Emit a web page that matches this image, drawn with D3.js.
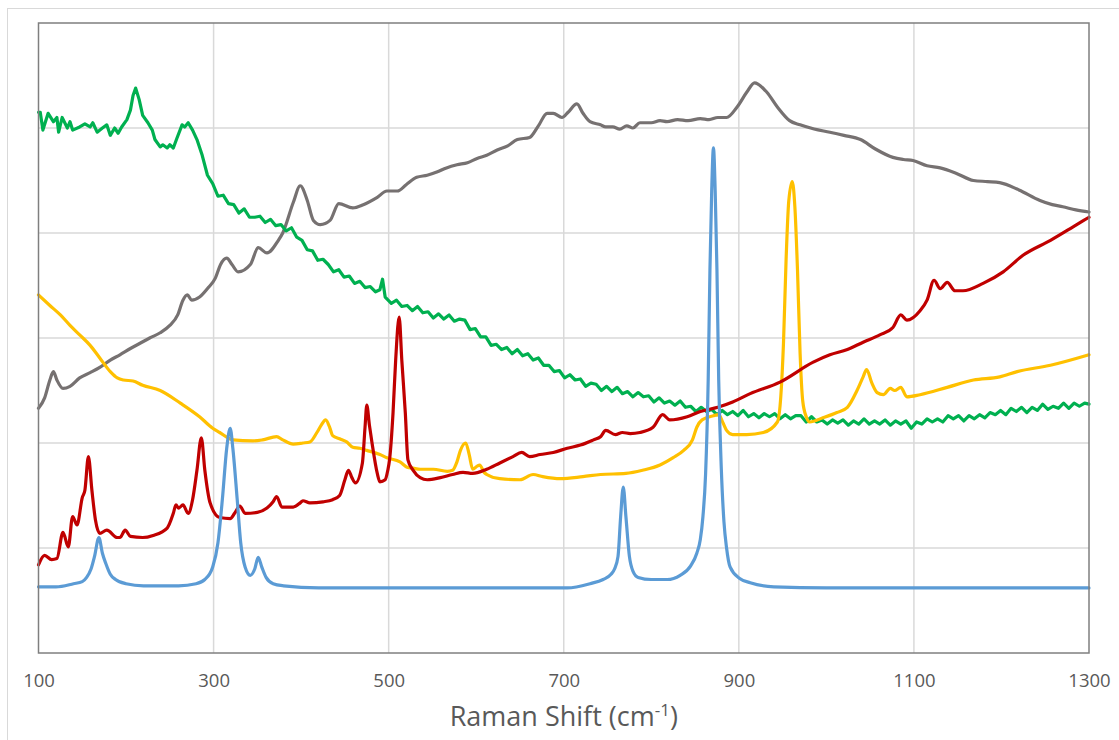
<!DOCTYPE html>
<html>
<head>
<meta charset="utf-8">
<script src="https://cdn.jsdelivr.net/npm/d3@7"></script>
<style>
  html, body { margin: 0; padding: 0; background: #ffffff; }
  svg { display: block; }
</style>
</head>
<body>
<svg id="chart" width="1119" height="740"></svg>
<script>
// Raman spectra: each series is a list of [wavenumber (cm-1), intensity (a.u.)]
const xTicks = [100, 300, 500, 700, 900, 1100, 1300];
const yGrid = [1, 2, 3, 4, 5];

const grayPts = [[100,2.33],[107,2.43],[113,2.60],[117,2.68],[121,2.60],[128,2.52],[136,2.54],[147,2.62],[159,2.67],[170,2.72],[182,2.79],[193,2.84],[205,2.90],[216,2.95],[227,3.00],[239,3.05],[250,3.12],[259,3.22],[265,3.36],[270,3.41],[275,3.36],[284,3.39],[294,3.48],[302,3.57],[308,3.70],[315,3.76],[321,3.70],[328,3.63],[342,3.70],[351,3.86],[361,3.81],[374,3.93],[379,4.00],[391,4.29],[399,4.45],[407,4.31],[414,4.12],[422,4.08],[433,4.12],[443,4.28],[459,4.24],[471,4.27],[487,4.34],[498,4.40],[510,4.40],[520,4.46],[532,4.53],[544,4.55],[555,4.58],[566,4.62],[578,4.65],[590,4.67],[601,4.71],[612,4.74],[624,4.79],[636,4.83],[647,4.89],[661,4.91],[671,5.02],[681,5.14],[688,5.14],[698,5.10],[705,5.15],[715,5.23],[722,5.14],[730,5.06],[742,5.03],[748,5.01],[756,5.01],[764,4.99],[772,5.02],[779,5.00],[787,5.05],[800,5.05],[810,5.07],[818,5.06],[830,5.08],[842,5.07],[856,5.09],[866,5.08],[876,5.10],[886,5.10],[898,5.20],[909,5.34],[918,5.43],[932,5.34],[944,5.20],[958,5.07],[970,5.03],[986,4.99],[1004,4.96],[1020,4.93],[1039,4.89],[1056,4.80],[1076,4.72],[1088,4.70],[1099,4.69],[1115,4.64],[1130,4.62],[1148,4.57],[1168,4.50],[1184,4.49],[1198,4.48],[1220,4.41],[1244,4.31],[1258,4.27],[1270,4.25],[1285,4.22],[1300,4.20]];

const greenPts = [[100,5.15],[102,5.15],[105,4.98],[111,5.14],[117,5.06],[121,5.10],[123,4.96],[127,5.10],[133,5.00],[136,5.06],[139,4.98],[147,5.01],[153,5.04],[159,5.01],[162,5.05],[167,4.96],[173,5.00],[178,5.03],[182,4.93],[187,5.00],[191,4.95],[195,5.01],[201,5.08],[205,5.17],[208,5.31],[211,5.38],[215,5.27],[219,5.12],[225,5.05],[230,4.98],[233,4.89],[239,4.82],[242,4.84],[247,4.81],[250,4.84],[254,4.81],[258,4.90],[264,5.03],[267,5.01],[271,5.05],[276,4.98],[281,4.89],[287,4.74],[293,4.55],[299,4.47],[305,4.35],[311,4.36],[317,4.28],[323,4.27],[329,4.19],[335,4.23],[341,4.15],[347,4.15],[353,4.16],[359,4.10],[365,4.13],[371,4.07],[377,4.08],[383,4.02],[389,4.05],[395,3.96],[401,3.93],[407,3.84],[413,3.83],[419,3.74],[425,3.75],[431,3.70],[437,3.63],[443,3.65],[449,3.58],[455,3.59],[461,3.52],[467,3.54],[473,3.48],[479,3.49],[485,3.44],[490,3.46],[493,3.56],[496,3.39],[503,3.33],[509,3.36],[515,3.30],[521,3.31],[527,3.26],[533,3.30],[539,3.24],[545,3.25],[551,3.19],[557,3.23],[563,3.18],[569,3.22],[575,3.16],[581,3.18],[587,3.17],[593,3.08],[599,3.09],[605,3.01],[611,3.01],[617,2.93],[623,2.94],[629,2.89],[635,2.91],[641,2.85],[647,2.89],[653,2.83],[659,2.85],[665,2.79],[671,2.81],[677,2.74],[683,2.74],[689,2.68],[695,2.69],[701,2.62],[707,2.65],[713,2.60],[719,2.61],[725,2.54],[731,2.57],[737,2.56],[743,2.50],[749,2.54],[755,2.49],[761,2.53],[767,2.47],[773,2.49],[779,2.44],[785,2.48],[791,2.44],[797,2.45],[803,2.39],[809,2.43],[815,2.38],[821,2.40],[827,2.36],[833,2.40],[839,2.34],[845,2.35],[851,2.30],[857,2.34],[863,2.30],[869,2.32],[875,2.27],[881,2.31],[887,2.27],[893,2.30],[899,2.26],[905,2.31],[911,2.25],[917,2.28],[923,2.24],[929,2.28],[935,2.25],[941,2.28],[947,2.23],[953,2.27],[959,2.23],[965,2.26],[971,2.26],[977,2.20],[983,2.25],[989,2.20],[995,2.22],[1001,2.18],[1007,2.22],[1013,2.19],[1019,2.22],[1025,2.17],[1031,2.21],[1037,2.18],[1043,2.23],[1049,2.18],[1055,2.21],[1061,2.18],[1067,2.22],[1073,2.17],[1079,2.21],[1085,2.18],[1091,2.21],[1097,2.14],[1103,2.20],[1109,2.18],[1115,2.23],[1121,2.20],[1127,2.23],[1133,2.20],[1139,2.26],[1145,2.23],[1151,2.26],[1157,2.21],[1163,2.26],[1169,2.23],[1175,2.27],[1181,2.24],[1187,2.29],[1193,2.27],[1199,2.31],[1205,2.27],[1211,2.33],[1217,2.30],[1223,2.34],[1229,2.29],[1235,2.34],[1241,2.31],[1247,2.37],[1253,2.32],[1259,2.35],[1265,2.33],[1271,2.38],[1277,2.33],[1283,2.38],[1289,2.35],[1295,2.38],[1300,2.37]];

const yellowPts = [[100,3.41],[113,3.31],[125,3.22],[136,3.12],[147,3.03],[159,2.93],[170,2.81],[182,2.68],[190,2.62],[197,2.60],[208,2.59],[219,2.55],[239,2.50],[262,2.38],[284,2.25],[299,2.14],[307,2.10],[322,2.03],[345,2.02],[356,2.03],[372,2.06],[379,2.03],[391,1.99],[402,2.00],[410,2.01],[418,2.10],[423,2.17],[428,2.22],[433,2.14],[436,2.07],[444,2.04],[452,2.01],[459,1.96],[467,1.95],[475,1.93],[490,1.89],[498,1.86],[513,1.82],[521,1.77],[528,1.76],[536,1.75],[551,1.75],[567,1.73],[573,1.74],[578,1.82],[582,1.93],[588,2.00],[592,1.89],[596,1.75],[601,1.78],[604,1.79],[609,1.72],[612,1.70],[627,1.66],[650,1.65],[665,1.70],[676,1.68],[696,1.66],[722,1.68],[742,1.70],[771,1.71],[790,1.74],[810,1.79],[825,1.86],[837,1.93],[847,2.03],[852,2.15],[858,2.22],[871,2.26],[877,2.27],[882,2.19],[886,2.12],[893,2.08],[909,2.08],[928,2.10],[944,2.20],[948,2.45],[951,2.95],[954,3.75],[957,4.30],[961,4.49],[964,4.25],[967,3.65],[970,2.85],[973,2.40],[977,2.25],[981,2.20],[996,2.24],[1012,2.29],[1024,2.34],[1035,2.50],[1042,2.63],[1046,2.70],[1052,2.57],[1058,2.48],[1065,2.46],[1073,2.52],[1078,2.50],[1085,2.53],[1092,2.44],[1107,2.46],[1138,2.53],[1168,2.60],[1198,2.63],[1218,2.68],[1256,2.74],[1300,2.84]];

const redPts = [[100,0.84],[107,0.93],[115,0.89],[121,0.90],[128,1.15],[134,1.01],[139,1.30],[144,1.22],[150,1.48],[153,1.55],[157,1.87],[161,1.55],[165,1.27],[170,1.14],[178,1.17],[190,1.10],[193,1.10],[199,1.17],[205,1.11],[219,1.10],[231,1.12],[247,1.19],[254,1.33],[257,1.41],[260,1.38],[265,1.41],[271,1.33],[276,1.46],[281,1.74],[286,2.05],[290,1.74],[296,1.43],[307,1.29],[319,1.28],[324,1.33],[330,1.40],[336,1.33],[350,1.34],[361,1.38],[368,1.44],[372,1.49],[378,1.39],[391,1.39],[399,1.43],[402,1.45],[410,1.43],[425,1.44],[436,1.46],[444,1.50],[450,1.65],[454,1.74],[458,1.67],[462,1.62],[470,1.81],[473,2.15],[475,2.36],[478,2.17],[481,2.00],[487,1.71],[490,1.63],[496,1.65],[499,1.74],[501,1.84],[505,2.29],[508,2.79],[512,3.20],[515,2.79],[519,2.29],[522,1.84],[528,1.74],[536,1.67],[544,1.65],[559,1.67],[573,1.70],[585,1.72],[596,1.71],[612,1.75],[627,1.81],[642,1.87],[652,1.91],[661,1.87],[673,1.89],[688,1.91],[704,1.95],[719,1.98],[734,2.03],[742,2.06],[748,2.12],[759,2.08],[767,2.10],[776,2.09],[787,2.10],[802,2.15],[813,2.27],[821,2.22],[841,2.25],[856,2.30],[876,2.34],[893,2.39],[913,2.47],[947,2.58],[985,2.77],[1004,2.84],[1024,2.89],[1042,2.96],[1061,3.03],[1076,3.10],[1085,3.22],[1092,3.17],[1107,3.26],[1115,3.36],[1123,3.55],[1130,3.47],[1138,3.53],[1147,3.45],[1156,3.45],[1179,3.52],[1202,3.63],[1225,3.79],[1256,3.93],[1286,4.08],[1300,4.15]];

const bluePts = [[100,0.63],[120,0.63],[140,0.66],[150,0.68],[155,0.72],[160,0.80],[164,0.92],[169,1.10],[173,0.95],[177,0.85],[182,0.75],[188,0.70],[200,0.66],[220,0.64],[260,0.64],[280,0.66],[290,0.70],[299,0.82],[305,1.05],[310,1.46],[315,1.95],[319,2.14],[322,1.95],[327,1.46],[331,1.05],[336,0.82],[342,0.74],[347,0.80],[351,0.91],[355,0.82],[360,0.72],[368,0.66],[380,0.64],[420,0.62],[500,0.62],[600,0.62],[704,0.62],[730,0.66],[745,0.70],[754,0.75],[758,0.80],[762,0.92],[765,1.30],[768,1.58],[771,1.30],[775,0.92],[779,0.78],[785,0.72],[800,0.70],[818,0.70],[833,0.74],[845,0.83],[852,0.95],[856,1.08],[859,1.30],[862,1.70],[865,2.60],[867,3.65],[869,4.40],[871,4.81],[873,4.40],[875,3.65],[877,2.60],[880,1.75],[883,1.25],[886,1.00],[890,0.82],[901,0.71],[913,0.67],[940,0.63],[1000,0.62],[1300,0.62]];

// noisy spectra are joined point to point, clean ones are smoothed
const seriesList = [
  { name: "gray",   color: "#767171", pts: grayPts,   curve: d3.curveMonotoneX },
  { name: "green",  color: "#00b050", pts: greenPts,  curve: d3.curveLinear },
  { name: "yellow", color: "#ffc000", pts: yellowPts, curve: d3.curveMonotoneX },
  { name: "red",    color: "#c00000", pts: redPts,    curve: d3.curveMonotoneX },
  { name: "blue",   color: "#5b9bd5", pts: bluePts,   curve: d3.curveMonotoneX }
];

const svg = d3.select("#chart");
const plot = { left: 38.5, right: 1089, top: 23, bottom: 653 };

// outer chart-area frame
svg.append("rect")
  .attr("x", 7.5).attr("y", 8.5)
  .attr("width", 1140).attr("height", 760)
  .attr("fill", "#ffffff")
  .attr("stroke", "#d9d9d9").attr("stroke-width", 1);

const x = d3.scaleLinear().domain([100, 1300]).range([plot.left, plot.right]);
const y = d3.scaleLinear().domain([0, 6]).range([plot.bottom, plot.top]);

// gridlines
svg.append("g").selectAll("line")
  .data(xTicks.slice(1, -1)).join("line")
  .attr("x1", d => x(d)).attr("x2", d => x(d))
  .attr("y1", plot.top).attr("y2", plot.bottom)
  .attr("stroke", "#d9d9d9").attr("stroke-width", 1.5);
svg.append("g").selectAll("line")
  .data(yGrid).join("line")
  .attr("x1", plot.left).attr("x2", plot.right)
  .attr("y1", d => y(d)).attr("y2", d => y(d))
  .attr("stroke", "#d9d9d9").attr("stroke-width", 1.5);

// spectra
svg.append("g")
  .selectAll("path").data(seriesList).join("path")
  .attr("d", d => d3.line().x(p => x(p[0])).y(p => y(p[1])).curve(d.curve)(d.pts))
  .attr("fill", "none")
  .attr("stroke", d => d.color)
  .attr("stroke-width", 3.2)
  .attr("stroke-linejoin", "round")
  .attr("stroke-linecap", "round");

// plot-area border
svg.append("rect")
  .attr("x", plot.left).attr("y", plot.top)
  .attr("width", plot.right - plot.left).attr("height", plot.bottom - plot.top)
  .attr("fill", "none").attr("stroke", "#7f7f7f").attr("stroke-width", 1.5);

// x axis labels
const xAxis = d3.axisBottom(x).tickValues(xTicks).tickSize(0).tickPadding(21)
  .tickFormat(d3.format("d"));
const gx = svg.append("g").attr("transform", `translate(0,${plot.bottom})`).call(xAxis);
gx.select(".domain").remove();
gx.selectAll("text")
  .attr("fill", "#595959")
  .style("font-family", "'Open Sans', 'Liberation Sans', sans-serif")
  .style("font-size", "18.5px");

// axis title
const title = svg.append("text")
  .attr("x", (plot.left + plot.right) / 2).attr("y", 726)
  .attr("text-anchor", "middle")
  .attr("fill", "#595959")
  .style("font-family", "'Open Sans', 'Liberation Sans', sans-serif")
  .style("font-size", "27px");
title.append("tspan").text("Raman Shift (cm");
title.append("tspan").attr("dy", -10).style("font-size", "17px").text("-1");
title.append("tspan").attr("dy", 10).text(")");
</script>
</body>
</html>
